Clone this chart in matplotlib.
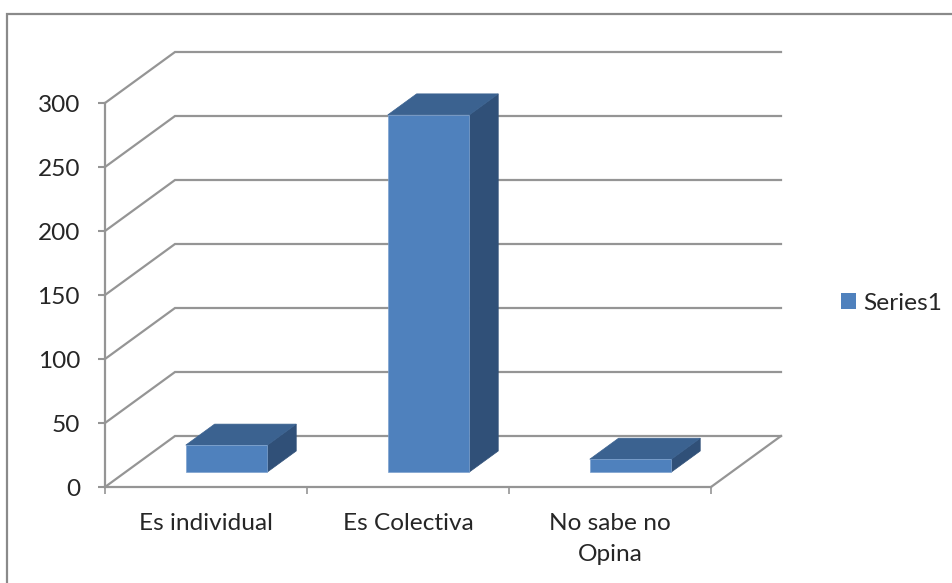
import matplotlib
matplotlib.use('Agg')
import matplotlib.pyplot as plt
from matplotlib.patches import Patch, Polygon
from matplotlib.lines import Line2D

categories = ['Es individual', 'Es Colectiva', 'No sabe no\nOpina']
values = [21, 279, 10]
y_ticks = [0, 50, 100, 150, 200, 250, 300]
series_name = 'Series1'

# oblique projection of the 3D box, in data units
DEPTH_X = 70 / 202
DEPTH_Y = 51 / 1.28
BAR_WIDTH = 0.404
BAR_NEAR = 0.294
BAR_FAR = 0.706

FRONT = '#4F81BD'
TOP = '#3B6290'
SIDE = '#305078'
GRID = '#959595'
TEXT = '#262626'
FONT_SIZE = 17.6


def project(x, v, depth):
    return x + depth * DEPTH_X, v + depth * DEPTH_Y


def draw_walls(ax):
    for v in y_ticks:
        x0, y0 = project(0, v, 0)
        x1, y1 = project(0, v, 1)
        x2, y2 = project(3, v, 1)
        ax.plot([x0, x1, x2], [y0, y1, y2], color=GRID, lw=1.6, zorder=1,
                solid_joinstyle='miter')
    x0, y0 = project(3, 0, 0)
    x1, y1 = project(3, 0, 1)
    ax.plot([x0, x1], [y0, y1], color=GRID, lw=1.6, zorder=1)


def draw_bar(ax, i, value):
    left = i + 0.5 - BAR_WIDTH / 2
    right = i + 0.5 + BAR_WIDTH / 2
    front = [project(left, 0, BAR_NEAR), project(right, 0, BAR_NEAR),
             project(right, value, BAR_NEAR), project(left, value, BAR_NEAR)]
    side = [project(right, 0, BAR_NEAR), project(right, 0, BAR_FAR),
            project(right, value, BAR_FAR), project(right, value, BAR_NEAR)]
    top = [project(left, value, BAR_NEAR), project(right, value, BAR_NEAR),
           project(right, value, BAR_FAR), project(left, value, BAR_FAR)]
    ax.add_patch(Polygon(side, facecolor=SIDE, edgecolor=SIDE, lw=0.5, zorder=3))
    ax.add_patch(Polygon(top, facecolor=TOP, edgecolor=TOP, lw=0.5, zorder=3))
    ax.add_patch(Polygon(front, facecolor=FRONT, edgecolor='#7DA2CF', lw=0.5, zorder=4))


plt.rcParams['font.family'] = ['Lato', 'DejaVu Sans']

fig = plt.figure(figsize=(9.53, 5.83), dpi=100)
ax = fig.add_axes([0, 0, 1, 1])
ax.set_xlim(-105 / 202, 848 / 202)
ax.set_ylim(-96 / 1.28, 487 / 1.28)
ax.patch.set_alpha(0)

draw_walls(ax)
for i, v in enumerate(values):
    draw_bar(ax, i, v)

# axes lines sit on the front plane of the box
for side in ['top', 'right']:
    ax.spines[side].set_visible(False)
ax.spines['left'].set_position(('data', 0))
ax.spines['bottom'].set_position(('data', 0))
ax.spines['left'].set_bounds(0, 300)
ax.spines['bottom'].set_bounds(0, 3)
ax.spines['left'].set_color(GRID)
ax.spines['bottom'].set_color(GRID)
ax.spines['left'].set_linewidth(1.6)
ax.spines['bottom'].set_linewidth(1.6)

ax.set_yticks(y_ticks)
ax.set_xticks([0, 1, 2, 3])
ax.set_xticklabels([])
ax.set_xticks([0.5, 1.5, 2.5], minor=True)
ax.set_xticklabels(categories, minor=True, linespacing=1.6, va='top')
ax.tick_params(axis='y', length=5, width=1.5, color=GRID, labelcolor=TEXT,
               labelsize=FONT_SIZE, pad=13)
ax.tick_params(axis='x', which='major', length=5, width=1.2, color=GRID)
ax.tick_params(axis='x', which='minor', length=0, labelcolor=TEXT,
               labelsize=FONT_SIZE, pad=18.5)

handle = Patch(facecolor=FRONT, edgecolor='none', label=series_name)
ax.legend(handles=[handle], loc='center left', bbox_to_anchor=(841 / 953, 1 - 303 / 583),
          frameon=False, fontsize=FONT_SIZE, handlelength=0.62, handleheight=0.62,
          handletextpad=0.3, borderpad=0, borderaxespad=0, labelcolor=TEXT)

# chart area border, cut off at the right and bottom
fig.add_artist(Line2D([7 / 953, 7 / 953, 1], [0, 1 - 14 / 583, 1 - 14 / 583],
                      color='#8A8A8A', lw=1.6, solid_joinstyle='miter'))

plt.savefig('out.png', dpi=100)
